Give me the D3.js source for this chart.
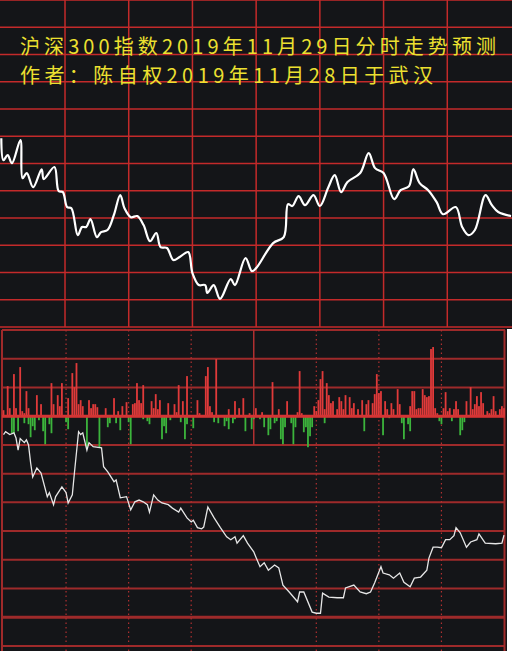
<!DOCTYPE html>
<html>
<head>
<meta charset="utf-8">
<script src="https://cdn.jsdelivr.net/npm/d3@7"></script>
<style>
  html, body { margin: 0; padding: 0; background: #fff; }
  svg { display: block; }
</style>
</head>
<body>
<svg id="chart"></svg>
<script>
const WIDTH = 512;
const HEIGHT = 651;

const TITLE_LINES = [
    "沪深300指数2019年11月29日分时走势预测",
    "作者：陈自权2019年11月28日于武汉"
];

// forecast curve, [minute, level] (level in grid tenths, 0..120)
const forecast = [
    [0,69.3],[1,61.2],[3,63.1],[5,60.1],[9,68.6],[10,54.6],[12,56.5],[15,51.3],[19,57.9],[20,54.3],
    [25,58.7],[27,49.9],[29,49.5],[31,44.0],[33,43.6],[36,33.7],[38,36.7],[40,36.7],[42,39.6],[45,33.0],
    [47,34.8],[50,35.6],[53,41.1],[56,48.4],[58,43.6],[61,40.3],[64,40.7],[67,37.4],[70,31.5],[73,34.5],
    [75,29.3],[78,29.0],[81,24.6],[84,25.7],[88,27.5],[90,19.8],[93,15.4],[96,15.4],[97,12.5],[100,15.4],
    [103,10.3],[108,17.6],[110,15.4],[115,25.3],[118,20.5],[120,21.6],[128,30.8],[133,33.0],[135,45.1],[137,44.4],
    [140,48.0],[143,44.7],[147,48.4],[150,44.4],[154,51.3],[157,55.7],[160,49.5],[163,53.2],[169,56.5],[173,63.8],
    [176,58.3],[180,56.5],[185,46.9],[188,50.2],[192,51.7],[194,57.9],[197,52.8],[201,50.2],[205,45.8],[208,41.4],
    [214,44.0],[217,36.7],[220,33.7],[223,35.6],[228,48.4],[231,44.7],[234,42.2],[240,40.7]
];

// actual intraday index, [minute, price]
const price = [
    [0,3856.8],[1,3857.3],[3,3856.8],[5,3857.1],[6,3856.2],[7,3854.1],[8,3856.1],[10,3855.4],[11,3855.9],[12,3855.0],
    [13,3851.9],[14,3849.4],[16,3851.0],[18,3850.1],[21,3846.0],[22,3846.7],[24,3844.6],[25,3846.0],[28,3847.7],[30,3846.7],
    [31,3844.9],[33,3846.3],[34,3850.1],[36,3857.3],[37,3856.8],[38,3857.1],[40,3854.1],[41,3855.4],[43,3854.7],[47,3854.5],
    [48,3851.2],[50,3850.3],[53,3848.6],[54,3848.9],[56,3845.8],[59,3846.0],[61,3843.7],[63,3845.1],[65,3845.4],[67,3845.1],
    [69,3844.6],[70,3843.3],[72,3846.3],[74,3845.4],[76,3844.9],[79,3844.6],[81,3844.0],[84,3843.3],[85,3844.0],[88,3842.3],
    [90,3841.6],[91,3841.9],[93,3840.6],[95,3840.4],[96,3840.7],[98,3844.2],[101,3842.3],[104,3840.6],[107,3839.0],[109,3838.5],
    [111,3839.0],[112,3837.9],[115,3839.2],[117,3837.9],[120,3836.4],[121,3835.5],[123,3833.8],[125,3834.5],[127,3833.2],[130,3834.1],
    [132,3833.6],[134,3830.6],[137,3829.4],[141,3827.7],[142,3829.4],[144,3829.4],[148,3825.9],[150,3825.7],[152,3825.7],[153,3829.2],
    [156,3828.5],[160,3828.4],[163,3828.4],[164,3830.1],[168,3830.6],[171,3829.4],[174,3829.1],[176,3829.4],[178,3831.0],[181,3833.8],
    [182,3832.7],[185,3832.4],[187,3831.8],[190,3832.7],[192,3831.1],[195,3830.3],[197,3831.8],[200,3832.0],[203,3833.2],[204,3835.3],
    [206,3837.2],[208,3837.2],[210,3837.1],[212,3838.5],[214,3838.5],[216,3839.2],[217,3840.6],[219,3839.7],[222,3837.2],[224,3838.1],
    [227,3838.5],[228,3839.5],[231,3837.9],[236,3837.8],[239,3837.9],[240,3839.3]
];

// red (buy) bars, [minute, amount]
const buyBars = [
    [0,6],[2,30],[3,8],[5,42],[6,8],[8,49],[9,5],[10,3],[11,25],[12,8],[16,21],[18,12],[23,33],[24,12],[26,21],
    [27,10],[28,33],[31,18],[33,43],[34,29],[35,53],[36,12],[37,16],[38,10],[41,16],[42,8],[43,12],[44,12],[45,9],
    [49,8],[53,18],[55,5],[57,10],[59,14],[62,12],[63,13],[64,33],[65,16],[66,13],[67,31],[71,15],[72,8],[73,22],
    [74,7],[75,16],[79,13],[82,12],[83,4],[84,31],[86,15],[88,40],[93,16],[94,3],[97,40],[98,49],[99,10],[100,4],
    [102,57],[108,7],[111,15],[113,8],[115,18],[118,3],[121,8],[124,4],[129,34],[132,7],[136,15],[141,4],[142,45],
    [143,3],[149,10],[150,5],[151,16],[152,37],[153,45],[154,7],[155,33],[156,21],[157,13],[158,15],[160,7],[161,19],
    [162,15],[163,7],[164,21],[166,19],[167,8],[168,13],[170,7],[172,16],[174,12],[175,16],[177,13],[178,22],[179,42],
    [180,23],[181,25],[183,15],[184,7],[186,13],[187,7],[189,27],[190,12],[195,10],[196,25],[197,25],[198,7],[199,8],
    [200,8],[201,27],[202,21],[203,19],[204,20],[205,67],[206,69],[207,8],[208,3],[211,8],[212,24],[213,5],[214,8],
    [216,7],[217,15],[218,7],[222,15],[224,29],[225,7],[226,12],[227,20],[228,10],[229,24],[230,13],[232,5],[233,3],
    [234,7],[235,20],[236,5],[238,7],[239,10],[240,8]
];

// green (sell) bars, [minute, amount]
const sellBars = [
    [4,17],[5,17],[7,15],[10,7],[12,8],[13,21],[14,10],[15,14],[17,4],[19,15],[20,28],[22,8],[23,17],[30,6],[31,13],
    [40,31],[46,31],[50,11],[51,7],[54,7],[56,14],[60,6],[61,28],[67,3],[69,5],[70,8],[76,23],[77,10],[78,17],[80,4],
    [85,6],[87,23],[88,8],[91,12],[101,6],[103,7],[106,10],[107,5],[108,13],[110,7],[111,3],[116,15],[119,13],[120,3],
    [123,3],[125,11],[127,19],[128,13],[130,7],[131,5],[133,23],[134,28],[135,11],[138,7],[139,28],[140,11],[144,16],
    [145,11],[146,31],[147,20],[148,11],[154,7],[173,15],[182,19],[185,2],[191,7],[192,23],[194,8],[195,15],[209,5],
    [210,8],[215,5],[219,19],[220,14],[221,6]
];

const FORECAST_GRID = d3.range(0, 121, 10);
const PRICE_GRID = d3.range(3820, 3876, 5);
const TIME_TICKS = d3.range(0, 241, 30);

const BG = "#141518";


document.addEventListener("DOMContentLoaded", function() {
    const svg = d3.select("#chart")
        .attr("width", WIDTH)
        .attr("height", HEIGHT);

    svg.append("rect")
        .attr("width", WIDTH)
        .attr("height", HEIGHT)
        .attr("fill", BG);

    // ---- top panel: forecast ----
    const topX = d3.scaleLinear().domain([0, 240]).range([1.3, 511]);
    const topY = d3.scaleLinear().domain([0, 120]).range([327, 0]);

    const top = svg.append("g");

    top.selectAll("line.h")
        .data(FORECAST_GRID)
        .enter()
        .append("line")
        .attr("x1", 0)
        .attr("x2", WIDTH)
        .attr("y1", d => topY(d))
        .attr("y2", d => topY(d))
        .attr("stroke", "#c42a2a")
        .attr("stroke-width", 1.5);

    top.selectAll("line.v")
        .data(TIME_TICKS.slice(1, -1))
        .enter()
        .append("line")
        .attr("x1", d => topX(d))
        .attr("x2", d => topX(d))
        .attr("y1", 0)
        .attr("y2", topY(0))
        .attr("stroke", "#c42a2a")
        .attr("stroke-width", 1.5);

    const forecastLine = d3.line()
        .x(d => topX(d[0]))
        .y(d => topY(d[1]))
        .curve(d3.curveCatmullRom.alpha(0.5));

    top.append("path")
        .datum(forecast)
        .attr("d", forecastLine)
        .attr("fill", "none")
        .attr("stroke", "#ffffff")
        .attr("stroke-width", 2.2)
        .attr("stroke-linejoin", "round");

    top.selectAll("text")
        .data(TITLE_LINES)
        .enter()
        .append("text")
        .attr("x", 20)
        .attr("y", (d, i) => 54 + i * 29.2)
        .attr("textLength", (d, i) => i === 0 ? 476 : 413)
        .attr("lengthAdjust", "spacing")
        .attr("font-family", "'Noto Sans CJK SC', sans-serif")
        .attr("font-size", 20)
        .attr("fill", "#ece030")
        .text(d => d);

    // ---- bottom panel: actual ----
    const botX = d3.scaleLinear().domain([0, 240]).range([3.5, 504]);
    const priceY = d3.scaleLinear().domain([3820, 3875]).range([646, 330]);
    const volY = d3.scaleLinear().domain([0, 86]).range([priceY(3860), 330]);
    const zeroY = volY(0);

    const bot = svg.append("g");

    bot.selectAll("line.h")
        .data(PRICE_GRID)
        .enter()
        .append("line")
        .attr("x1", 2)
        .attr("x2", 505)
        .attr("y1", d => priceY(d))
        .attr("y2", d => priceY(d))
        .attr("stroke", "#9e2a2a")
        .attr("stroke-width", d => d === 3825 ? 3 : 2);

    bot.selectAll("line.dot")
        .data(TIME_TICKS.filter(d => d > 0 && d < 240 && d !== 120))
        .enter()
        .append("line")
        .attr("x1", d => botX(d))
        .attr("x2", d => botX(d))
        .attr("y1", priceY(3875))
        .attr("y2", HEIGHT)
        .attr("stroke", "#b03030")
        .attr("stroke-width", 1.2)
        .attr("stroke-dasharray", "1.5,3");

    // midday divider, only in the bar part
    bot.append("line")
        .attr("x1", botX(120))
        .attr("x2", botX(120))
        .attr("y1", priceY(3875))
        .attr("y2", priceY(3855))
        .attr("stroke", "#b03030")
        .attr("stroke-width", 1.5);

    bot.selectAll("line.border")
        .data([2, 504.5])
        .enter()
        .append("line")
        .attr("x1", d => d)
        .attr("x2", d => d)
        .attr("y1", priceY(3875))
        .attr("y2", HEIGHT)
        .attr("stroke", "#a02a2a")
        .attr("stroke-width", 2);

    bot.selectAll("rect.buy")
        .data(buyBars)
        .enter()
        .append("rect")
        .attr("x", d => botX(d[0]) - 0.9)
        .attr("y", d => volY(d[1]))
        .attr("width", 1.8)
        .attr("height", d => zeroY - volY(d[1]))
        .attr("fill", "#e03a3a");

    bot.selectAll("rect.sell")
        .data(sellBars)
        .enter()
        .append("rect")
        .attr("x", d => botX(d[0]) - 0.9)
        .attr("y", zeroY)
        .attr("width", 1.8)
        .attr("height", d => volY(-d[1]) - zeroY)
        .attr("fill", "#3cb43c");

    bot.append("line")
        .attr("x1", 2)
        .attr("x2", 505)
        .attr("y1", zeroY)
        .attr("y2", zeroY)
        .attr("stroke", "#d43434")
        .attr("stroke-width", 3);

    const priceLine = d3.line()
        .x(d => botX(d[0]))
        .y(d => priceY(d[1]));

    bot.append("path")
        .datum(price)
        .attr("d", priceLine)
        .attr("fill", "none")
        .attr("stroke", "#e6e6e6")
        .attr("stroke-width", 1.3);

    // white strip on the right of the pasted screenshot
    svg.append("rect")
        .attr("x", 507)
        .attr("y", 329)
        .attr("width", WIDTH - 507)
        .attr("height", HEIGHT - 329)
        .attr("fill", "#ffffff");
});
</script>
</body>
</html>
